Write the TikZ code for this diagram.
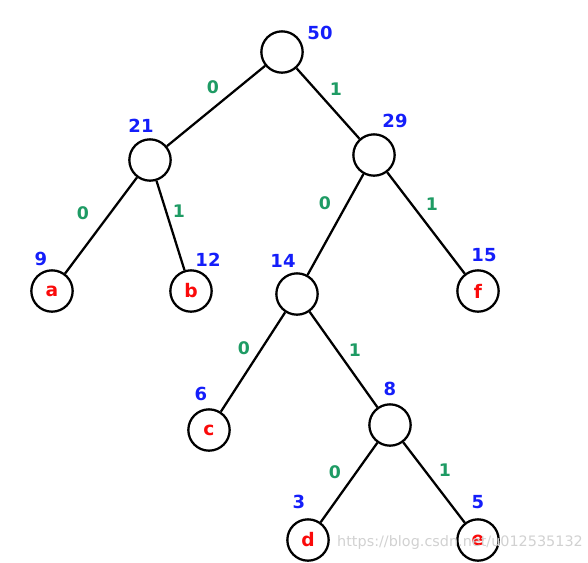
\documentclass[tikz,border=0pt]{standalone}
\usepackage{fontspec}
\setmainfont{DejaVu Sans}
\usetikzlibrary{positioning}
\definecolor{wblue}{RGB}{20,30,250}
\definecolor{bgreen}{RGB}{30,155,100}
\definecolor{lred}{RGB}{250,10,10}
\tikzset{hnode/.style = {draw, circle, line width=1.7pt, inner sep=0,
                         minimum size=31pt, font=\bfseries\fontsize{14}{14}\selectfont,
                         text=lred}}
\tikzset{weight/.style = {text=wblue, font=\bfseries\fontsize{13.5}{13.5}\selectfont, inner sep=0}}
\tikzset{bit/.style = {text=bgreen, font=\bfseries\fontsize{13}{13}\selectfont, inner sep=0}}
\tikzset{every picture/.style={
    every path/.style={line width=1.7pt},
}}

\begin{document}
\begin{tikzpicture}[x=0.75pt, y=-0.75pt]
      \useasboundingbox (0,0) rectangle (588,562);
      % tree nodes
      \node[hnode] (n50) at (282,52) {};
      \node[hnode] (n21) at (150,160) {};
      \node[hnode] (n29) at (374,155) {};
      \node[hnode] (a) at (52,291) {a};
      \node[hnode] (b) at (191,291) {b};
      \node[hnode] (n14) at (297,294) {};
      \node[hnode] (f) at (478,291) {f};
      \node[hnode] (c) at (209,430) {c};
      \node[hnode] (n8) at (390,425) {};
      \node[hnode] (d) at (308,540) {d};
      \node[hnode] (e) at (478,540) {e};
      % edges
      \draw (n50) -- (n21);
      \draw (n50) -- (n29);
      \draw (n21) -- (a);
      \draw (n21) -- (b);
      \draw (n29) -- (n14);
      \draw (n29) -- (f);
      \draw (n14) -- (c);
      \draw (n14) -- (n8);
      \draw (n8) -- (d);
      \draw (n8) -- (e);
      % weights
      \node[weight] (w50) at (320,33) {50};
      \node[weight] (w21) at (141,126) {21};
      \node[weight] (w29) at (395,121) {29};
      \node[weight] (w9) at (41,259) {9};
      \node[weight] (w12) at (208,260) {12};
      \node[weight] (w14) at (283,261) {14};
      \node[weight] (w15) at (484,255) {15};
      \node[weight] (w6) at (201,394) {6};
      \node[weight] (w8) at (390,389) {8};
      \node[weight] (w3) at (299,502) {3};
      \node[weight] (w5) at (478,502) {5};
      % bits
      \node[bit] (b1) at (213,87) {0};
      \node[bit] (b2) at (336,89) {1};
      \node[bit] (b3) at (83,213) {0};
      \node[bit] (b4) at (179,211) {1};
      \node[bit] (b5) at (325,203) {0};
      \node[bit] (b6) at (432,204) {1};
      \node[bit] (b7) at (244,348) {0};
      \node[bit] (b8) at (355,350) {1};
      \node[bit] (b9) at (335,472) {0};
      \node[bit] (b10) at (445,470) {1};
      \node[text=black!18, font=\fontsize{10.8}{10.8}\selectfont, inner sep=0] (wm) at (460,543) {https://blog.csdn.net/u012535132};
    \end{tikzpicture}
\end{document}
